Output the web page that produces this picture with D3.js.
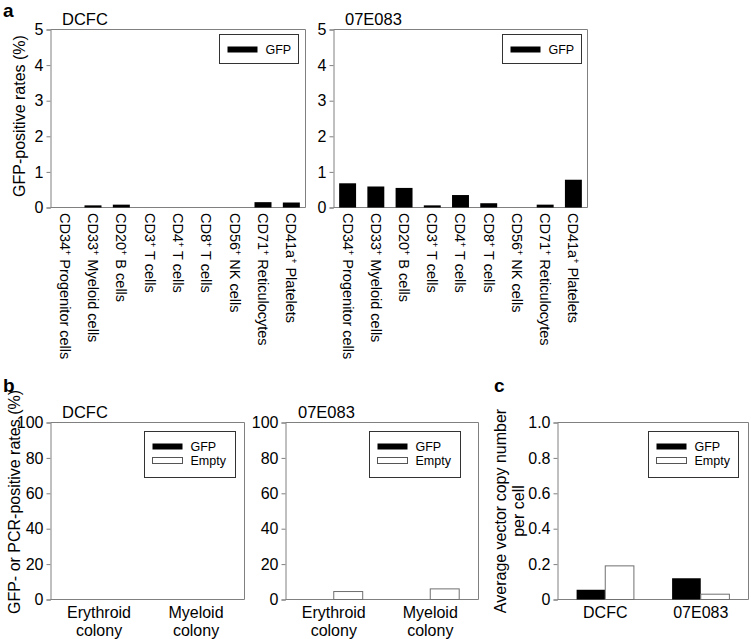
<!DOCTYPE html>
<html>
<head>
<meta charset="utf-8">
<script src="https://cdn.jsdelivr.net/npm/d3@7"></script>
<style>
  html, body { margin: 0; padding: 0; background: #fff; }
  svg { display: block; font-family: "Liberation Sans", Arial, sans-serif; }
</style>
</head>
<body>
<svg id="chart" width="751" height="639"></svg>
<script>
// ---------- Data ----------
const aMarkers = ["CD34", "CD33", "CD20", "CD3", "CD4", "CD8", "CD56", "CD71", "CD41a"];
const aCellTypes = ["Progenitor cells", "Myeloid cells", "B cells", "T cells", "T cells", "T cells", "NK cells", "Reticulocytes", "Platelets"];
const aDCFC_GFP = [0, 0.06, 0.08, 0, 0, 0, 0, 0.15, 0.14];
const a07E083_GFP = [0.68, 0.59, 0.55, 0.06, 0.35, 0.12, 0, 0.08, 0.78];
const aTicks = [0, 1, 2, 3, 4, 5];

const bCategories = [["Erythroid", "colony"], ["Myeloid", "colony"]];
const bDCFC_GFP = [0, 0];
const bDCFC_Empty = [0, 0];
const b07E083_GFP = [0, 0];
const b07E083_Empty = [4.5, 6];
const bTicks = [0, 20, 40, 60, 80, 100];

const cCategories = ["DCFC", "07E083"];
const cGFP = [0.055, 0.12];
const cEmpty = [0.19, 0.03];
const cTicks = [0, 0.2, 0.4, 0.6, 0.8, 1.0];

// ---------- Drawing ----------
const svg = d3.select("#chart");
const AXIS = "#808080";

function panel(o) {
  const g = svg.append("g");
  const y = d3.scaleLinear().domain(o.yDomain).range([o.bottom, o.top]);
  const x = d3.scaleBand().domain(d3.range(o.n)).range([o.left, o.right])
    .paddingInner(o.padIn).paddingOuter(o.padOut);
  const xs = d3.scaleBand().domain(o.series.map(s => s.name)).range([0, x.bandwidth()]);

  g.append("path")
    .attr("d", `M${o.left},${o.top}H${o.right}V${o.bottom}`)
    .attr("fill", "none").attr("stroke", AXIS).attr("stroke-width", 1);
  g.append("line").attr("x1", o.left).attr("x2", o.right)
    .attr("y1", o.bottom).attr("y2", o.bottom).attr("stroke", AXIS);

  const ax = g.append("g").attr("transform", `translate(${o.left},0)`)
    .call(d3.axisLeft(y).tickValues(o.ticks).tickSize(4).tickPadding(3).tickFormat(o.fmt));
  ax.select(".domain").attr("stroke", AXIS);
  ax.selectAll(".tick line").attr("stroke", AXIS);
  ax.selectAll(".tick text").attr("fill", "#000").attr("font-size", 16)
    .attr("font-family", "Liberation Sans, Arial, sans-serif");

  o.series.forEach(s => {
    g.selectAll(null).data(s.values).enter().append("rect")
      .attr("x", (d, i) => x(i) + xs(s.name))
      .attr("width", xs.bandwidth())
      .attr("y", d => y(d))
      .attr("height", d => y(0) - y(d))
      .attr("fill", s.name === "GFP" ? "#000" : "#fff")
      .attr("stroke", s.name === "GFP" ? "none" : "#707070")
      .attr("stroke-width", 1)
      .filter(d => d === 0).remove();
  });

  if (o.title) {
    g.append("text").attr("x", o.titleX).attr("y", o.titleY)
      .attr("font-size", 16.5).attr("fill", "#000").text(o.title);
  }

  const L = o.legend;
  g.append("rect").attr("x", L.x).attr("y", L.y).attr("width", L.w).attr("height", L.h)
    .attr("fill", "#fff").attr("stroke", "#333");
  o.series.forEach((s, i) => {
    const yy = L.y + 12 + i * 14;
    g.append("rect").attr("x", L.x + 8).attr("y", yy).attr("width", 30).attr("height", 6)
      .attr("fill", s.name === "GFP" ? "#000" : "#fff")
      .attr("stroke", s.name === "GFP" ? "none" : "#555");
    g.append("text").attr("x", L.x + 46).attr("y", yy + 7.5)
      .attr("font-size", 12.5).attr("fill", "#000").text(s.name);
  });

  return { g, x, y };
}

// ----- Panel a -----
function panelA(left, right, title, titleX, values, legendX) {
  const p = panel({
    left, right, top: 29.5, bottom: 207.5, n: aMarkers.length,
    padIn: 0.4, padOut: 0.2, yDomain: [0, 5], ticks: aTicks, fmt: d3.format("d"),
    series: [{ name: "GFP", values }],
    title, titleX, titleY: 25,
    legend: { x: legendX, y: 34.5, w: 79, h: 29 }
  });
  const t = p.g.selectAll(null).data(aMarkers).enter().append("text")
    .attr("transform", (d, i) => `translate(${p.x(i) + p.x.bandwidth() / 2},213) rotate(90)`)
    .attr("dy", "0.35em").attr("font-size", 14.5).attr("fill", "#000");
  t.append("tspan").text(d => d);
  t.append("tspan").attr("baseline-shift", "super").attr("font-size", 9).text("+");
  t.append("tspan").text((d, i) => " " + aCellTypes[i]);
}
panelA(50.5, 305.5, "DCFC", 62, aDCFC_GFP, 219.5);
panelA(333.5, 587.5, "07E083", 345, a07E083_GFP, 502.5);

// ----- Panel b -----
function panelB(left, right, title, titleX, gfp, empty, legendX) {
  const p = panel({
    left, right, top: 422.5, bottom: 599.5, n: bCategories.length,
    padIn: 0.4, padOut: 0.2, yDomain: [0, 100], ticks: bTicks, fmt: d3.format("d"),
    series: [{ name: "GFP", values: gfp }, { name: "Empty", values: empty }],
    title, titleX, titleY: 418,
    legend: { x: legendX, y: 431.5, w: 91, h: 46 }
  });
  const t = p.g.selectAll(null).data(bCategories).enter().append("text")
    .attr("text-anchor", "middle").attr("font-size", 16).attr("fill", "#000");
  t.each(function (d, i) {
    const cx = p.x(i) + p.x.bandwidth() / 2;
    d3.select(this).selectAll("tspan").data(d).enter().append("tspan")
      .attr("x", cx).attr("y", (l, j) => 618 + j * 18).text(l => l);
  });
}
panelB(50.5, 244.5, "DCFC", 62, bDCFC_GFP, bDCFC_Empty, 144.5);
panelB(285.5, 478.5, "07E083", 298, b07E083_GFP, b07E083_Empty, 369.5);

// ----- Panel c -----
(function () {
  const p = panel({
    left: 557.5, right: 748.5, top: 422.5, bottom: 599.5, n: cCategories.length,
    padIn: 0.4, padOut: 0.2, yDomain: [0, 1], ticks: cTicks,
    fmt: d => d === 0 ? "0" : d3.format(".1f")(d),
    series: [{ name: "GFP", values: cGFP }, { name: "Empty", values: cEmpty }],
    title: "", titleX: 0, titleY: 0,
    legend: { x: 648.5, y: 431.5, w: 90, h: 46 }
  });
  p.g.selectAll(null).data(cCategories).enter().append("text")
    .attr("x", (d, i) => p.x(i) + p.x.bandwidth() / 2).attr("y", 618)
    .attr("text-anchor", "middle").attr("font-size", 16).attr("fill", "#000").text(d => d);
  const yl = p.g.append("text").attr("transform", "translate(506,511) rotate(-90)")
    .attr("text-anchor", "middle").attr("font-size", 16).attr("fill", "#000");
  yl.append("tspan").attr("x", 0).attr("y", 0).text("Average vector copy number");
  yl.append("tspan").attr("x", 0).attr("y", 18).text("per cell");
})();

// ----- Y axis labels & panel letters -----
svg.append("text").attr("transform", "translate(25,116) rotate(-90)")
  .attr("text-anchor", "middle").attr("font-size", 16).attr("fill", "#000")
  .text("GFP-positive rates (%)");
svg.append("text").attr("transform", "translate(20,502) rotate(-90)")
  .attr("text-anchor", "middle").attr("font-size", 16).attr("fill", "#000")
  .text("GFP- or PCR-positive rates (%)");

svg.append("text").attr("x", 3).attr("y", 17).attr("font-size", 19).attr("font-weight", "bold").text("a");
svg.append("text").attr("x", 3).attr("y", 392).attr("font-size", 19).attr("font-weight", "bold").text("b");
svg.append("text").attr("x", 494).attr("y", 392).attr("font-size", 19).attr("font-weight", "bold").text("c");
</script>
</body>
</html>
